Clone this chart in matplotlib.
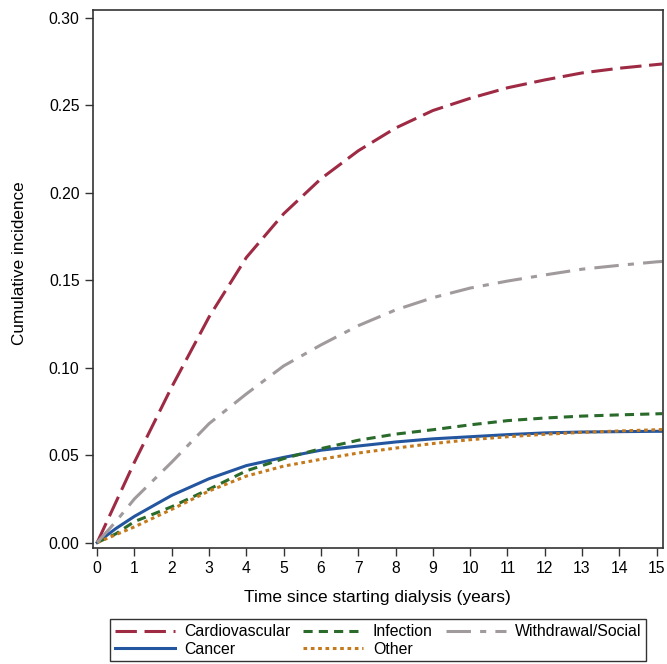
import matplotlib
matplotlib.use("Agg")
import matplotlib.pyplot as plt
import numpy as np

# Cumulative incidence by cause of death
years = [0, 0.5, 1, 2, 3, 4, 5, 6, 7, 8, 9, 10, 11, 12, 13, 14, 15, 15.15]

cardiovascular = [0, 0.023, 0.046, 0.089, 0.129, 0.163, 0.188, 0.208, 0.224, 0.237,
                  0.247, 0.254, 0.260, 0.2645, 0.2685, 0.2712, 0.2733, 0.2736]
withdrawal = [0, 0.012, 0.025, 0.046, 0.068, 0.085, 0.101, 0.113, 0.124, 0.133,
              0.140, 0.1455, 0.1495, 0.153, 0.1563, 0.1585, 0.1605, 0.1607]
cancer = [0, 0.008, 0.015, 0.027, 0.0365, 0.044, 0.0487, 0.0528, 0.0552, 0.0575,
          0.0593, 0.0605, 0.0617, 0.0627, 0.0632, 0.0634, 0.0636, 0.0636]
infection = [0, 0.005, 0.012, 0.0205, 0.0305, 0.041, 0.048, 0.0537, 0.0585, 0.062,
             0.0645, 0.0673, 0.0697, 0.0712, 0.0723, 0.073, 0.0736, 0.0737]
other = [0, 0.0045, 0.009, 0.019, 0.0295, 0.038, 0.0437, 0.0476, 0.0512, 0.054,
         0.0566, 0.0588, 0.0605, 0.0619, 0.063, 0.0638, 0.0645, 0.0646]

x_ticks = list(range(0, 16))
y_ticks = [0.00, 0.05, 0.10, 0.15, 0.20, 0.25, 0.30]

plt.rcParams["font.family"] = ["Liberation Sans", "DejaVu Sans"]

fig = plt.figure(figsize=(6.67, 6.64), dpi=100)
ax = fig.add_axes([0.139, 0.175, 0.855, 0.810])

# Order matters for the 3-column legend (filled column by column)
ax.plot(years, cardiovascular, color="#9E2A44", lw=2.2, dashes=(7, 2.5),
        label="Cardiovascular")
ax.plot(years, cancer, color="#2456A0", lw=2.2, label="Cancer")
ax.plot(years, infection, color="#2A6A2A", lw=2.2, dashes=(3, 2),
        label="Infection")
ax.plot(years, other, color="#C47A1C", lw=2.2, dashes=(1.2, 1.2),
        label="Other")
ax.plot(years, withdrawal, color="#A09A9C", lw=2.2, dashes=(8, 3, 2, 3),
        label="Withdrawal/Social")

ax.set_xlim(-0.12, 15.17)
ax.set_ylim(-0.003, 0.3045)
ax.set_xticks(x_ticks)
ax.set_yticks(y_ticks)
ax.set_yticklabels([f"{v:.2f}" for v in y_ticks])
ax.tick_params(axis="both", direction="out", length=6, width=1,
               labelsize=11.3, color="#333333")

for spine in ax.spines.values():
    spine.set_color("#333333")
    spine.set_linewidth(1.2)

ax.set_xlabel("Time since starting dialysis (years)", fontsize=12.5, labelpad=10)
ax.set_ylabel("Cumulative incidence", fontsize=12.3)
ax.yaxis.set_label_coords(-0.115, 0.53)

leg = fig.legend(loc="lower center", bbox_to_anchor=(0.567, 0.004), ncol=3,
                 fontsize=11.4, frameon=True, fancybox=False, edgecolor="black",
                 handlelength=3.8, handletextpad=0.6, columnspacing=0.8,
                 labelspacing=0.15, borderpad=0.3, borderaxespad=0.0)
leg.get_frame().set_linewidth(1.0)

fig.savefig("out.png", dpi=100)
